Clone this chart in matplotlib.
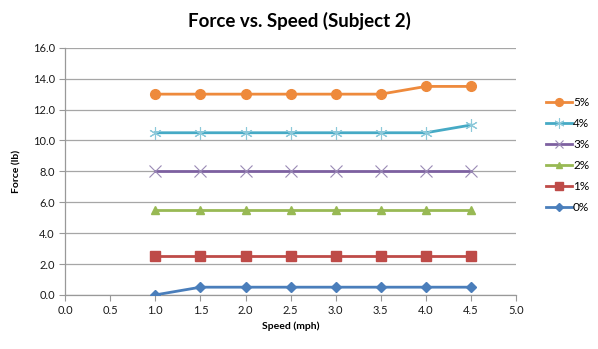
import matplotlib.pyplot as plt
from matplotlib.lines import Line2D

plt.rcParams['font.family'] = ['Lato', 'DejaVu Sans']

# Speed (mph) and measured force (lb) per incline
speed = [1.0, 1.5, 2.0, 2.5, 3.0, 3.5, 4.0, 4.5]
grade_0 = [0.0, 0.5, 0.5, 0.5, 0.5, 0.5, 0.5, 0.5]
grade_1 = [2.5, 2.5, 2.5, 2.5, 2.5, 2.5, 2.5, 2.5]
grade_2 = [5.5, 5.5, 5.5, 5.5, 5.5, 5.5, 5.5, 5.5]
grade_3 = [8.0, 8.0, 8.0, 8.0, 8.0, 8.0, 8.0, 8.0]
grade_4 = [10.5, 10.5, 10.5, 10.5, 10.5, 10.5, 10.5, 11.0]
grade_5 = [13.0, 13.0, 13.0, 13.0, 13.0, 13.0, 13.5, 13.5]
labels = ['0%', '1%', '2%', '3%', '4%', '5%']

fig = plt.figure(figsize=(5.98, 3.49), dpi=100)
ax = fig.add_axes([0.109, 0.155, 0.754, 0.708])

series = [
    (grade_0, '#4A7EBB', 'D', 5, '#4A7EBB', 1),
    (grade_1, '#BE4B48', 's', 7, '#BE4B48', 1),
    (grade_2, '#98B954', '^', 6, '#98B954', 1),
    (grade_3, '#7D60A0', 'x', 8, '#9A8AB5', 0.8),
    (grade_4, '#46AAC5', (6, 2, 0), 9, '#8CC9DA', 0.8),
    (grade_5, '#EE8A3C', 'o', 7, '#EE8A3C', 1),
]

handles = []
for (vals, col, mk, ms, mcol, mew), lab in zip(series, labels):
    ax.plot(speed, vals, color=col, lw=2.0, marker=mk, markersize=ms,
            markerfacecolor=mcol, markeredgecolor=mcol, markeredgewidth=mew,
            zorder=3)
    handles.append(Line2D([], [], color=col, lw=2.0, marker=mk,
                          markersize=ms * 0.8, markerfacecolor=mcol,
                          markeredgecolor=mcol, markeredgewidth=mew,
                          label=lab))

ax.set_xlim(0, 5)
ax.set_ylim(0, 16)
ax.set_xticks([i * 0.5 for i in range(11)])
ax.set_yticks([i * 2 for i in range(9)])
ax.xaxis.set_major_formatter(plt.FormatStrFormatter('%.1f'))
ax.yaxis.set_major_formatter(plt.FormatStrFormatter('%.1f'))
ax.tick_params(labelsize=8, labelcolor='#1a1a1a', length=4, width=0.8,
               color='#999999')

ax.grid(axis='y', color='#A6A6A6', lw=0.9)
ax.set_axisbelow(True)
for side in ['top', 'right']:
    ax.spines[side].set_visible(False)
for side in ['left', 'bottom']:
    ax.spines[side].set_color('#999999')
    ax.spines[side].set_linewidth(0.9)

ax.set_xlabel('Speed (mph)', fontsize=7.5, fontweight='bold', labelpad=4)
ax.set_ylabel('Force (lb)', fontsize=7.5, fontweight='bold', labelpad=8)
fig.suptitle('Force vs. Speed (Subject 2)', fontsize=13.5, fontweight='bold',
             y=0.965)

fig.legend(handles=handles[::-1], loc='center left',
           bbox_to_anchor=(0.905, 0.555), frameon=False, fontsize=8.5,
           handlelength=2.2, handletextpad=0.1, labelspacing=0.85,
           borderaxespad=0)

fig.savefig('out.png', dpi=100)
